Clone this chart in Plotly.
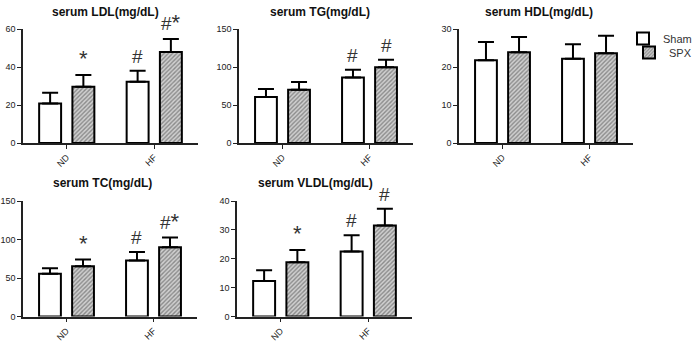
import plotly.graph_objects as go

groups = ["ND", "HF"]
series_names = ["Sham", "SPX"]

titles = ["serum LDL(mg/dL)", "serum TG(mg/dL)", "serum HDL(mg/dL)",
          "serum TC(mg/dL)", "serum VLDL(mg/dL)"]

# means (Sham, SPX) per group ND, HF
ldl_sham = [20.8, 32.2]
ldl_spx = [29.6, 47.9]
ldl_sham_top = [26.5, 38.0]
ldl_spx_top = [35.8, 54.8]

tg_sham = [60.5, 86.3]
tg_spx = [70.2, 99.6]
tg_sham_top = [71.2, 96.5]
tg_spx_top = [80.2, 109.7]

hdl_sham = [21.8, 22.2]
hdl_spx = [23.9, 23.6]
hdl_sham_top = [26.6, 26.0]
hdl_spx_top = [27.9, 28.2]

tc_sham = [55.6, 72.6]
tc_spx = [65.2, 90.0]
tc_sham_top = [62.6, 83.9]
tc_spx_top = [73.9, 102.6]

vldl_sham = [12.3, 22.5]
vldl_spx = [18.8, 31.5]
vldl_sham_top = [16.0, 28.1]
vldl_spx_top = [23.0, 37.3]

# significance marks (Sham, SPX) per group
ldl_marks = [["", "*"], ["#", "#*"]]
tg_marks = [["", ""], ["#", "#"]]
hdl_marks = [["", ""], ["", ""]]
tc_marks = [["", "*"], ["#", "#*"]]
vldl_marks = [["", "*"], ["#", "#"]]

y_max = [60, 150, 30, 150, 40]
y_dtick = [20, 50, 10, 50, 10]

panels = [
    (ldl_sham, ldl_spx, ldl_sham_top, ldl_spx_top, ldl_marks),
    (tg_sham, tg_spx, tg_sham_top, tg_spx_top, tg_marks),
    (hdl_sham, hdl_spx, hdl_sham_top, hdl_spx_top, hdl_marks),
    (tc_sham, tc_spx, tc_sham_top, tc_spx_top, tc_marks),
    (vldl_sham, vldl_spx, vldl_sham_top, vldl_spx_top, vldl_marks),
]

W, H = 697, 345
FONT = "Liberation Sans, Arial, sans-serif"

# layout geometry in pixels
x_dom_px = [(23, 198), (239, 413), (459, 633), (23, 197), (237, 412)]
y_dom_px = [(29, 143), (29, 143), (29, 143), (201, 316.5), (201, 316.5)]
title_px = [(105, 12), (320, 12), (539, 12), (102, 183), (315, 183)]

BARGAP = 0.24
GROUPGAP = 0.34
offset = (1 - BARGAP) / 4


def mark_html(txt):
    return "".join("<span style='font-size:22px'>*</span>" if c == "*" else c for c in txt)


fig = go.Figure()
annotations = []
layout = {}

for i, (sham, spx, sham_top, spx_top, marks) in enumerate(panels):
    n = "" if i == 0 else str(i + 1)
    xa, ya = "x" + n, "y" + n
    for j, (name, vals, tops) in enumerate([("Sham", sham, sham_top), ("SPX", spx, spx_top)]):
        if name == "Sham":
            marker = dict(color="white", line=dict(color="black", width=2))
        else:
            marker = dict(color="#cfcfcf", line=dict(color="black", width=2),
                          pattern=dict(shape="/", fgcolor="#444444", bgcolor="#d0d0d0",
                                       size=3, solidity=0.45, fillmode="overlay"))
        fig.add_trace(go.Bar(
            x=groups, y=vals, name=name, marker=marker,
            xaxis=xa, yaxis=ya,
            error_y=dict(type="data", symmetric=False,
                         array=[t - v for t, v in zip(tops, vals)],
                         arrayminus=[0] * len(vals),
                         color="black", thickness=2, width=8),
            showlegend=(i == 0),
            legend="legend" if name == "Sham" else "legend2",
        ))
        for g in range(len(groups)):
            txt = marks[g][j]
            if txt:
                annotations.append(dict(
                    x=g + (-offset if j == 0 else offset), y=tops[g],
                    xref=xa, yref=ya, text=mark_html(txt), showarrow=False,
                    yanchor="bottom", yshift=2,
                    font=dict(family=FONT, size=19, color="#333333")))
    x0, x1 = x_dom_px[i]
    yt, yb = y_dom_px[i]
    layout["xaxis" + n] = dict(
        domain=[x0 / W, x1 / W], anchor=ya, type="category",
        range=[-0.5, 1.5], showline=True, linecolor="#222222", linewidth=1.5,
        ticks="outside", ticklen=4, tickwidth=1.2, tickcolor="#222222",
        tickangle=-45, tickfont=dict(family=FONT, size=9, color="#222222"),
        showgrid=False, zeroline=False)
    layout["yaxis" + n] = dict(
        domain=[1 - yb / H, 1 - yt / H], anchor=xa,
        range=[0, y_max[i]], dtick=y_dtick[i], showline=True,
        linecolor="#222222", linewidth=1.5, ticks="outside", ticklen=4,
        tickwidth=1.2, tickcolor="#222222",
        tickfont=dict(family=FONT, size=9, color="#222222"),
        showgrid=False, zeroline=False)
    tx, ty = title_px[i]
    annotations.append(dict(
        x=tx / W, y=1 - ty / H, xref="paper", yref="paper", text="<b>" + titles[i] + "</b>",
        showarrow=False, xanchor="center", yanchor="middle",
        font=dict(family=FONT, size=12, color="#111111")))

fig.update_layout(
    width=W, height=H, margin=dict(l=0, r=0, t=0, b=0, autoexpand=False),
    paper_bgcolor="white", plot_bgcolor="white",
    barmode="group", bargap=BARGAP, bargroupgap=GROUPGAP,
    annotations=annotations,
    legend=dict(x=1, y=1 - 24 / H, xanchor="right", yanchor="top",
                font=dict(family=FONT, size=11, color="#333333"),
                bgcolor="rgba(0,0,0,0)", itemwidth=30),
    legend2=dict(x=1, y=1 - 38 / H, xanchor="right", yanchor="top",
                 font=dict(family=FONT, size=11, color="#333333"),
                 bgcolor="rgba(0,0,0,0)", itemwidth=30),
    **layout,
)

fig.write_html("out.html", config={"displayModeBar": False},
               post_script="document.body.style.margin='0';document.body.style.overflow='hidden';")
